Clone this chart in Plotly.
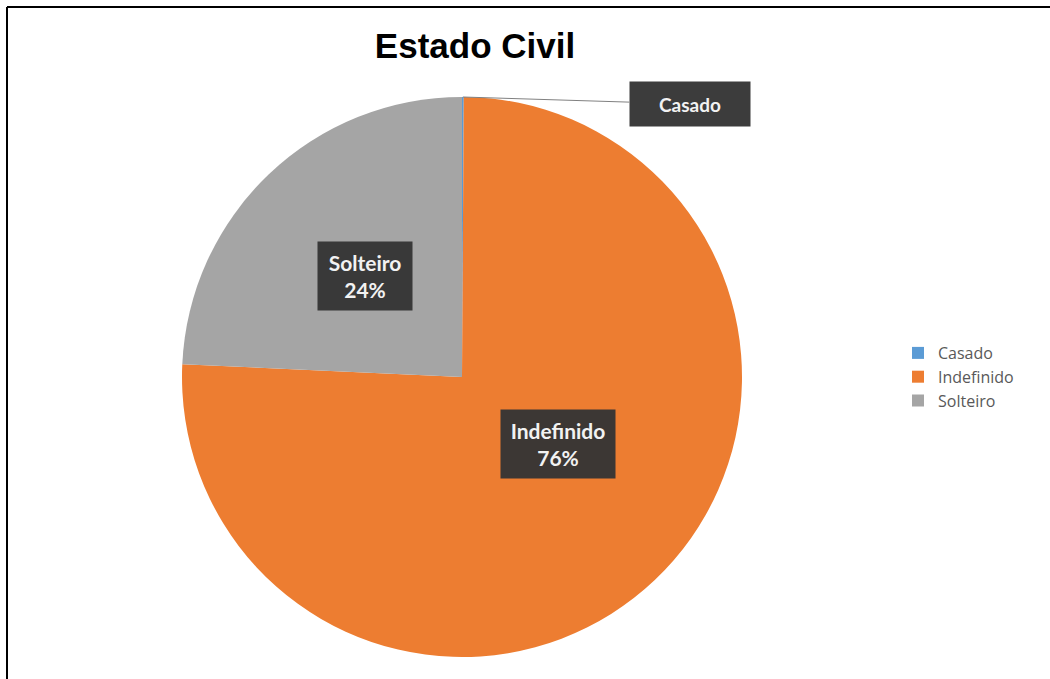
import math
import plotly.graph_objects as go

categories = ["Casado", "Indefinido", "Solteiro"]
values = [1, 757, 243]
colors = ["#5B9BD5", "#ED7D31", "#A5A5A5"]

W, H = 1050, 679
dom_x = [182 / W, 742 / W]
dom_y = [(H - 657) / H, (H - 97) / H]
cx = (dom_x[0] + dom_x[1]) / 2
cy = (dom_y[0] + dom_y[1]) / 2
R_px = (dom_x[1] - dom_x[0]) * W / 2

fig = go.Figure(go.Pie(
    labels=categories,
    values=values,
    marker=dict(colors=colors, line=dict(width=0)),
    sort=False,
    direction="clockwise",
    rotation=0,
    textinfo="none",
    hoverinfo="label+percent",
    domain=dict(x=dom_x, y=dom_y),
))

total = sum(values)
cum = 0
annotations = []
bg = "rgba(52,52,52,0.96)"
for lab, v in zip(categories, values):
    frac = v / total
    mid = (cum + frac / 2) * 2 * math.pi
    cum += frac
    pct = round(frac * 100)
    if frac < 0.02:
        px = cx + R_px * math.sin(mid) / W
        py = cy + R_px * math.cos(mid) / H
        annotations.append(dict(
            x=px, y=py, xref="paper", yref="paper",
            text="<b>%s</b>" % lab, showarrow=True, arrowhead=0,
            arrowwidth=1, arrowcolor="#808080", ax=227, ay=7,
            width=106, height=30, borderpad=7, bgcolor=bg,
            font=dict(family="Lato", size=19, color="#f2f2f2"),
        ))
    else:
        r = 0.5 * R_px
        px = cx + r * math.sin(mid) / W
        py = cy + r * math.cos(mid) / H
        w = 102 if len(lab) > 8 else 82
        annotations.append(dict(
            x=px, y=py, xref="paper", yref="paper",
            text="<b>%s<br>%d%%</b>" % (lab, pct), showarrow=False,
            align="center", width=w, height=56, borderpad=6, bgcolor=bg,
            font=dict(family="Lato", size=21, color="#f2f2f2"),
        ))

fig.update_layout(
    width=W, height=H,
    margin=dict(l=0, r=0, t=0, b=0),
    paper_bgcolor="white",
    plot_bgcolor="white",
    title=dict(text="<b>Estado Civil</b>", x=475 / W, y=1 - 46 / H,
               xanchor="center", yanchor="middle",
               font=dict(family="Liberation Sans", size=35, color="black")),
    showlegend=True,
    legend=dict(x=898 / W, y=1 - 377 / H, xanchor="left", yanchor="middle",
                font=dict(family="Open Sans", size=16, color="#595959"),
                itemwidth=30),
    annotations=annotations,
    shapes=[
        dict(type="line", xref="paper", yref="paper", x0=7 / W, x1=1.01,
             y0=1 - 7 / H, y1=1 - 7 / H, line=dict(color="black", width=2)),
        dict(type="line", xref="paper", yref="paper", x0=7 / W, x1=7 / W,
             y0=1 - 7 / H, y1=-0.01, line=dict(color="black", width=2)),
    ],
)

fig.write_html("out.html")
